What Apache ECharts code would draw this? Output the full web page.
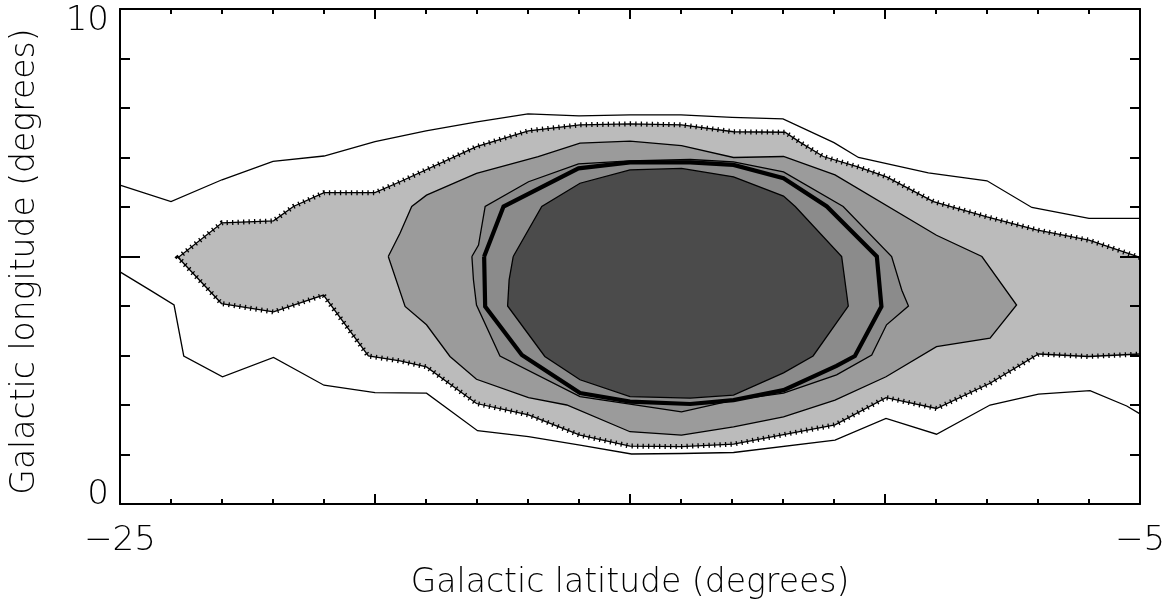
<!DOCTYPE html>
<html>
<head>
<meta charset="utf-8">
<script src="https://cdn.jsdelivr.net/npm/echarts@6/dist/echarts.min.js"></script>
<style>
  html, body { margin: 0; padding: 0; background: #fff; }
  #chart { width: 1169px; height: 605px; }
</style>
</head>
<body>
<div id="chart"></div>
<script>
// Axis ticks and their labels
const xTickValues = [-25, -20, -15, -10, -5];
const xTickLabels = ['\u221225', '', '', '', '\u22125'];
const yTickValues = [0, 5, 10];
const yTickLabels = ['0', '', '10'];

// Contour paths, [galactic latitude, galactic longitude] in degrees

// outermost (unfilled) level, upper branch
const outerUpper = [
  [-25, 6.44], [-24, 6.11], [-23, 6.55], [-22, 6.92], [-21, 7.03], [-20, 7.32],
  [-19, 7.54], [-18, 7.72], [-17, 7.88], [-16, 7.84], [-15, 7.86], [-14, 7.86],
  [-13, 7.81], [-12, 7.78], [-11, 7.30], [-10.52, 7.00], [-9.15, 6.69], [-8, 6.53],
  [-7.12, 5.99], [-6, 5.77], [-5, 5.77]
];

// outermost (unfilled) level, lower branch
const outerLower = [
  [-25, 4.69], [-24.41, 4.32], [-23.94, 4.02], [-23.75, 2.99], [-22.99, 2.57],
  [-21.99, 2.96], [-21, 2.40], [-20, 2.25], [-18.99, 2.24], [-17.99, 1.48],
  [-16.99, 1.36], [-15.98, 1.19], [-14.97, 1.01], [-13.99, 1.02], [-12.97, 1.04],
  [-10.98, 1.29], [-9.98, 1.73], [-8.99, 1.41], [-7.94, 2.00], [-6.99, 2.22],
  [-5.98, 2.29], [-5.26, 1.98], [-5, 1.82]
];

// first filled level (hatched boundary), open at the right edge
const level1 = [
  [-5, 4.98], [-6, 5.33], [-7.03, 5.54], [-8, 5.80], [-9.05, 6.11], [-9.97, 6.61],
  [-10.53, 6.81], [-11.21, 7.02], [-11.67, 7.31], [-11.96, 7.51], [-12.97, 7.52],
  [-13.99, 7.66], [-15, 7.68], [-15.98, 7.66], [-16.99, 7.54], [-18.01, 7.22],
  [-19.51, 6.51], [-20, 6.29], [-21, 6.29], [-21.6, 6.01], [-21.99, 5.72],
  [-23, 5.68], [-23.86, 4.98],
  [-23.01, 4.05], [-21.99, 3.88], [-21.01, 4.22], [-20.13, 2.99], [-19.51, 2.89],
  [-18.99, 2.77], [-18.01, 2.03], [-16.99, 1.80], [-15.98, 1.39], [-15, 1.17],
  [-13.99, 1.16], [-12.97, 1.21], [-10.98, 1.60], [-9.98, 2.15], [-8.99, 1.93],
  [-7.94, 2.44], [-6.99, 3.03], [-6.01, 2.98], [-5, 3.03]
];

// second filled level
const level2 = [
  [-19.74, 5.00], [-19.51, 5.47], [-19.28, 6.01], [-18.99, 6.24], [-18.01, 6.68],
  [-16.8, 7.02], [-15.98, 7.29], [-15, 7.33], [-13.99, 7.24], [-12.97, 7.00],
  [-11.99, 7.02], [-10.98, 6.65], [-8.99, 5.43], [-8.1, 5.00], [-7.42, 4.02],
  [-7.94, 3.35], [-8.99, 3.18], [-9.98, 2.57], [-10.98, 2.10], [-11.99, 1.76],
  [-12.97, 1.56], [-13.99, 1.39], [-15, 1.46], [-16.24, 2.00], [-16.99, 2.15],
  [-18.01, 2.52], [-18.53, 2.98], [-18.99, 3.62], [-19.41, 3.99]
];

// third filled level
const level3 = [
  [-18.10, 5.00], [-17.97, 5.23], [-17.84, 6.01], [-16.99, 6.51], [-16.01, 6.87],
  [-15, 6.93], [-13.82, 6.96], [-12.97, 6.91], [-11.99, 6.71], [-10.82, 6.01],
  [-9.87, 5.00], [-9.67, 4.32], [-9.54, 4.00], [-9.97, 3.62], [-10.26, 3.01],
  [-10.95, 2.61], [-11.99, 2.24], [-12.97, 2.10], [-13.99, 1.86], [-15.98, 2.17],
  [-17.55, 2.99], [-18.01, 4.02], [-18.07, 4.53]
];

// heavy contour drawn inside the third level
const heavy = [
  [-17.86, 5.00], [-17.48, 6.01], [-16.01, 6.78], [-15, 6.90], [-13.82, 6.90],
  [-12.97, 6.85], [-11.99, 6.58], [-11.14, 6.01], [-10.16, 5.00], [-10.07, 3.99],
  [-10.59, 2.99], [-10.95, 2.79], [-11.99, 2.30], [-12.97, 2.10], [-13.82, 2.02],
  [-15, 2.07], [-15.98, 2.24], [-17.12, 3.01], [-17.84, 3.99]
];

// innermost filled level
const level4 = [
  [-17.29, 5.00], [-16.73, 6.01], [-15.98, 6.48], [-15, 6.75], [-13.99, 6.78],
  [-12.97, 6.61], [-11.99, 6.22], [-11.76, 6.01], [-10.85, 5.00], [-10.72, 4.00],
  [-11.41, 2.99], [-11.99, 2.65], [-12.97, 2.20], [-13.82, 2.14], [-15, 2.17],
  [-15.98, 2.51], [-16.67, 2.98], [-17.40, 4.00], [-17.37, 4.53]
];

const closed = pts => pts.concat([pts[0]]);

function fillSeries(pts, color) {
  return {
    type: 'custom',
    coordinateSystem: 'cartesian2d',
    data: pts,
    encode: { x: 0, y: 1 },
    clip: true,
    silent: true,
    z: 1,
    renderItem: (params, api) => {
      if (params.dataIndex !== 0) return null;
      return {
        type: 'polygon',
        shape: { points: pts.map(p => api.coord(p)) },
        style: { fill: color, stroke: null }
      };
    }
  };
}

function lineSeries(pts, width, dash) {
  return {
    type: 'line',
    data: pts,
    symbol: 'none',
    showSymbol: false,
    silent: true,
    clip: true,
    z: 3,
    lineStyle: { color: '#000', width: width, type: dash || 'solid', cap: 'butt', join: 'miter' }
  };
}

const font = "'DejaVu Sans', sans-serif";
const black = '#000';
const labelFont = { color: black, fontFamily: font, fontWeight: 200, fontSize: 34 };

function xAxisCfg(pos, withLabels) {
  return {
    type: 'value', position: pos, min: -25, max: -5, interval: 5, z: 10,
    axisLine: { show: true, onZero: false, lineStyle: { color: black, width: 2 } },
    axisTick: { show: true, inside: true, length: 10, lineStyle: { color: black, width: 2 } },
    minorTick: { show: true, splitNumber: 5, length: 5, lineStyle: { color: black, width: 2 } },
    splitLine: { show: false },
    minorSplitLine: { show: false },
    axisLabel: Object.assign({
      show: withLabels, margin: 20,
      formatter: v => xTickLabels[xTickValues.indexOf(v)] || ''
    }, labelFont),
    name: withLabels ? 'Galactic latitude (degrees)' : '',
    nameLocation: 'middle', nameGap: 63,
    nameTextStyle: { color: black, fontFamily: font, fontWeight: 200, fontSize: 33 }
  };
}

function yAxisCfg(pos, withLabels) {
  return {
    type: 'value', position: pos, min: 0, max: 10, interval: 5, z: 10,
    axisLine: { show: true, onZero: false, lineStyle: { color: black, width: 2 } },
    axisTick: { show: true, inside: true, length: 20, lineStyle: { color: black, width: 2 } },
    minorTick: { show: true, splitNumber: 5, length: 10, lineStyle: { color: black, width: 2 } },
    splitLine: { show: false },
    minorSplitLine: { show: false },
    axisLabel: Object.assign({
      show: withLabels, margin: 11,
      verticalAlignMinLabel: 'bottom', verticalAlignMaxLabel: 'top',
      formatter: v => {
        const i = yTickValues.indexOf(v);
        const t = yTickLabels[i] || '';
        if (!t) return '';
        return i === 0 ? '{lo|' + t + '}' : '{hi|' + t + '}';
      },
      rich: {
        lo: Object.assign({ lineHeight: 18 }, labelFont),
        hi: Object.assign({ lineHeight: 24 }, labelFont)
      }
    }, labelFont),
    name: withLabels ? 'Galactic longitude (degrees)' : '',
    nameLocation: 'middle', nameGap: 78,
    nameTextStyle: { color: black, fontFamily: font, fontWeight: 200, fontSize: 33, padding: [0, 10, 0, 0] }
  };
}

const chart = echarts.init(document.getElementById('chart'), null, { renderer: 'canvas' });
chart.setOption({
  animation: false,
  backgroundColor: '#fff',
  grid: { left: 120, right: 29, top: 9, bottom: 101, containLabel: false, outerBoundsMode: 'none' },
  xAxis: [xAxisCfg('bottom', true), xAxisCfg('top', false)],
  yAxis: [yAxisCfg('left', true), yAxisCfg('right', false)],
  series: [
    fillSeries(level1, '#bbbbbb'),
    fillSeries(level2, '#9b9b9b'),
    fillSeries(level3, '#8b8b8b'),
    fillSeries(level4, '#4b4b4b'),
    lineSeries(outerUpper, 1.3),
    lineSeries(outerLower, 1.3),
    lineSeries(level1, 1.3),
    lineSeries(level1, 5, [1.3, 4.2]),
    lineSeries(closed(level2), 1.3),
    lineSeries(closed(level3), 1.3),
    lineSeries(closed(heavy), 4.2),
    lineSeries(closed(level4), 1.3)
  ]
});
</script>
</body>
</html>
